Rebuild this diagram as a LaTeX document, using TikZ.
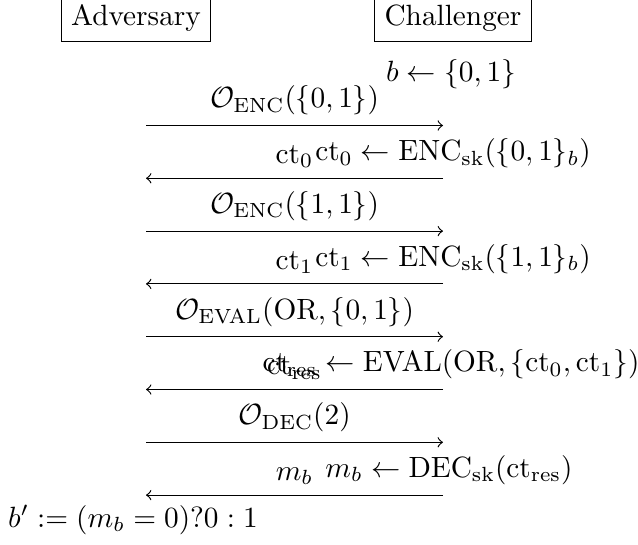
\documentclass[tikz,border=0pt]{standalone}
\usepackage{amsmath}
\begin{document}
\begin{tikzpicture}[x=0.3413pt,y=-0.3413pt,
  actor/.style={draw,rectangle,inner sep=3.333pt,anchor=base,text height=8pt},
  msg/.style={->},
  lbl/.style={above},
  comp/.style={anchor=south,inner sep=3.333pt}]
\useasboundingbox (0,0) rectangle (638,544);
% actors
\node[actor] (adv) at (136,25.6) {Adversary};
\node[actor] (cha) at (453,25.6) {Challenger};
\node[anchor=base] (bsel) at (451,81) {$b \leftarrow \{0,1\}$};
% arrow end points
\foreach \i/\y in {1/125.5,2/178.3,3/231.1,4/283.9,5/336.7,6/389.5,7/442.3,8/495.1}{
  \coordinate (a\i) at (146,\y);
  \coordinate (c\i) at (443,\y);
}
% messages
\draw[msg] (a1) -- node[lbl] (l1) {$\mathcal{O}_{\mathrm{ENC}}(\{0,1\})$} (c1);
\draw[msg] (c2) -- node[lbl] (l2) {$\mathrm{ct}_0$} (a2);
\node[comp] (k2) at (453,178.3) {$\mathrm{ct}_0 \leftarrow \mathrm{ENC}_{\mathrm{sk}}(\{0,1\}_b)$};
\draw[msg] (a3) -- node[lbl] (l3) {$\mathcal{O}_{\mathrm{ENC}}(\{1,1\})$} (c3);
\draw[msg] (c4) -- node[lbl] (l4) {$\mathrm{ct}_1$} (a4);
\node[comp] (k4) at (453,283.9) {$\mathrm{ct}_1 \leftarrow \mathrm{ENC}_{\mathrm{sk}}(\{1,1\}_b)$};
\draw[msg] (a5) -- node[lbl] (l5) {$\mathcal{O}_{\mathrm{EVAL}}(\mathrm{OR},\{0,1\})$} (c5);
\draw[msg] (c6) -- node[lbl] (l6) {$\mathrm{ct}_{\mathrm{res}}$} (a6);
\node[comp] (k6) at (451,389.5) {$\mathrm{ct}_{\mathrm{res}} \leftarrow \mathrm{EVAL}(\mathrm{OR},\{\mathrm{ct}_0,\mathrm{ct}_1\})$};
\draw[msg] (a7) -- node[lbl] (l7) {$\mathcal{O}_{\mathrm{DEC}}(2)$} (c7);
\draw[msg] (c8) -- node[lbl] (l8) {$m_b$} (a8);
\node[comp] (k8) at (449,495.1) {$m_b \leftarrow \mathrm{DEC}_{\mathrm{sk}}(\mathrm{ct}_{\mathrm{res}})$};
% final guess
\node[below] (bp) at (133,495.1) {$b' := (m_b = 0)?0 : 1$};
\end{tikzpicture}
\end{document}
